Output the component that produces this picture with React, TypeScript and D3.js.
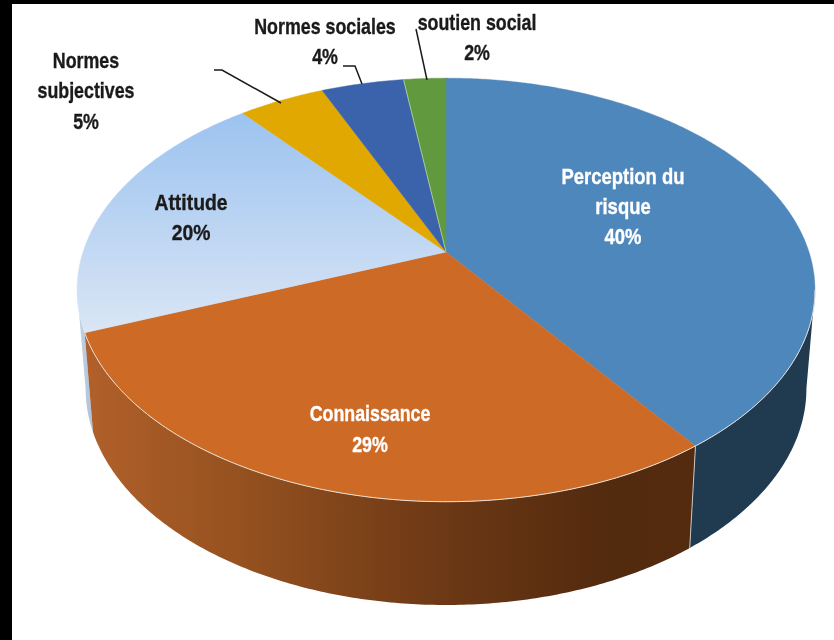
import { pie, line as d3line, range, scaleLinear, format } from "d3";

const labels = ["Perception du risque", "Connaissance", "Attitude", "Normes subjectives", "Normes sociales", "soutien social"];
const values = [40, 29, 20, 4.5, 4.3, 2.2];
const topColors = ["#4e87bb", "#cd6b26", "url(#attitudeFill)", "#e0a800", "#3b63ab", "#619a3e"];

const W = 834, H = 640;
// top face: perspective ellipse around the apex
const CX = 446, CY = 252, A = 205, B = 363, K = 0.179;
// bottom rim of the extrusion
const BOT_Y = 349.7, BOT_A = 209.6, BOT_B = 354.6;

type Pt = [number, number];
const topPt = (a: number): Pt => {
  const x = Math.sin(a), y = -Math.cos(a), d = 1 - K * y;
  return [CX + (B * x) / d, CY + (A * y) / d];
};
const botPt = (a: number): Pt => {
  const x = Math.sin(a), y = -Math.cos(a), d = 1 - K * y;
  return [CX + (BOT_B * x) / d, BOT_Y + (BOT_A * y) / d];
};
const arcAngles = (a0: number, a1: number) => {
  const n = Math.max(2, Math.ceil(Math.abs(a1 - a0) / 0.01));
  const s = scaleLinear().domain([0, n]).range([a0, a1]);
  return range(n + 1).map(i => s(i));
};
const rad = (deg: number) => (deg * Math.PI) / 180;
const path = d3line<Pt>();
const pct = format(".0f");

const slices = pie<number>().sort(null).startAngle(0).endAngle(Math.PI * 2)(values);

// silhouette angles where the side wall disappears behind the top face
const RIGHT_EDGE = rad(100.3), LEFT_EDGE = rad(259.7);

function wall(a0: number, a1: number) {
  const t = arcAngles(a0, a1);
  return path([...t.map(topPt), ...t.slice().reverse().map(botPt)]) + "Z";
}

// the source font is a condensed bold, so the text is squeezed horizontally
const textStyle = { fontFamily: "'Liberation Sans', sans-serif", fontWeight: 700, fontSize: 22 };

function Label({ x, y, lines, fill = "#1a1a1a", dy = 30.5, squeeze = 0.81 }: { x: number; y: number; lines: string[]; fill?: string; dy?: number; squeeze?: number }) {
  return (
    <g transform={`translate(${x},0) scale(${squeeze},1)`} filter="url(#soft)">
      <text textAnchor="middle" fill={fill} stroke={fill} strokeWidth={0.35} style={textStyle}>
        {lines.map((l, i) => (
          <tspan key={i} x={0} y={y + i * dy}>{l}</tspan>
        ))}
      </text>
    </g>
  );
}

export default function App() {
  const s = slices;
  const seam = s[0].endAngle;
  const leaders: Pt[][] = [
    [[214, 70], [222, 70], [281, 103]],
    [[343, 66], [355, 66], [362, 84]],
    [[416, 29], [427, 80]],
  ];
  return (
    <svg width={W} height={H} viewBox={`0 0 ${W} ${H}`} style={{ position: "absolute", left: 0, top: 0, display: "block" }}>
      <defs>
        <linearGradient id="attitudeFill" gradientUnits="userSpaceOnUse" x1="0" y1="115" x2="0" y2="335">
          <stop offset="0" stopColor="#9cc3f0" />
          <stop offset="1" stopColor="#dbe6f5" />
        </linearGradient>
        <linearGradient id="attitudeSide" gradientUnits="userSpaceOnUse" x1="78" y1="0" x2="96" y2="0">
          <stop offset="0" stopColor="#c4d3e6" />
          <stop offset="1" stopColor="#a6bdd9" />
        </linearGradient>
        <linearGradient id="orangeSide" gradientUnits="userSpaceOnUse" x1="87" y1="0" x2="696" y2="0">
          <stop offset="0" stopColor="#b1602a" />
          <stop offset="0.27" stopColor="#93501f" />
          <stop offset="0.59" stopColor="#6c3815" />
          <stop offset="0.86" stopColor="#522a0e" />
          <stop offset="1" stopColor="#542b0f" />
        </linearGradient>
        <filter id="soft" x="-10%" y="-20%" width="120%" height="140%">
          <feGaussianBlur stdDeviation="0.45" />
        </filter>
      </defs>

      <rect width={W} height={H} fill="#ffffff" />
      <rect width={12} height={H} fill="#000000" />
      <rect width={W} height={4} fill="#000000" />

      {/* side walls */}
      <path d={wall(s[1].endAngle, LEFT_EDGE)} fill="url(#attitudeSide)" />
      <path d={wall(RIGHT_EDGE, seam)} fill="#203a50" />
      <path d={wall(seam, s[1].endAngle)} fill="url(#orangeSide)" />
      <path d={path([topPt(seam), botPt(seam)]) ?? ""} stroke="#c9c4bd" strokeWidth={1} fill="none" />

      {/* top face */}
      {s.map((d, i) => (
        <path
          key={labels[i]}
          d={path([[CX, CY], ...arcAngles(d.startAngle, d.endAngle).map(topPt)]) + "Z"}
          fill={topColors[i]}
          stroke={topColors[i]}
          strokeWidth={0.4}
        />
      ))}
      <path d={path(arcAngles(RIGHT_EDGE, s[1].endAngle).map(topPt)) ?? ""} stroke="#e8e2da" strokeWidth={1} fill="none" />
      <path d={path([[CX, CY], topPt(s[4].endAngle)]) ?? ""} stroke="#b9d2a8" strokeWidth={0.8} fill="none" />

      {/* leader lines */}
      {leaders.map((l, i) => (
        <path key={i} d={path(l) ?? ""} stroke="#1a1a1a" strokeWidth={1.5} fill="none" />
      ))}

      <Label x={623} y={184} dy={30} squeeze={0.84} fill="#ffffff" lines={["Perception du", "risque", `${pct(values[0])}%`]} />
      <Label x={370} y={421} dy={31} fill="#ffffff" lines={[labels[1], `${pct(values[1])}%`]} />
      <Label x={191} y={210} squeeze={0.88} lines={[labels[2], `${pct(values[2])}%`]} />
      <Label x={86} y={68} lines={["Normes", "subjectives", `${pct(values[3])}%`]} />
      <Label x={325} y={34} lines={[labels[4], `${pct(values[4])}%`]} />
      <Label x={477} y={30} lines={[labels[5], `${pct(values[5])}%`]} />
    </svg>
  );
}
